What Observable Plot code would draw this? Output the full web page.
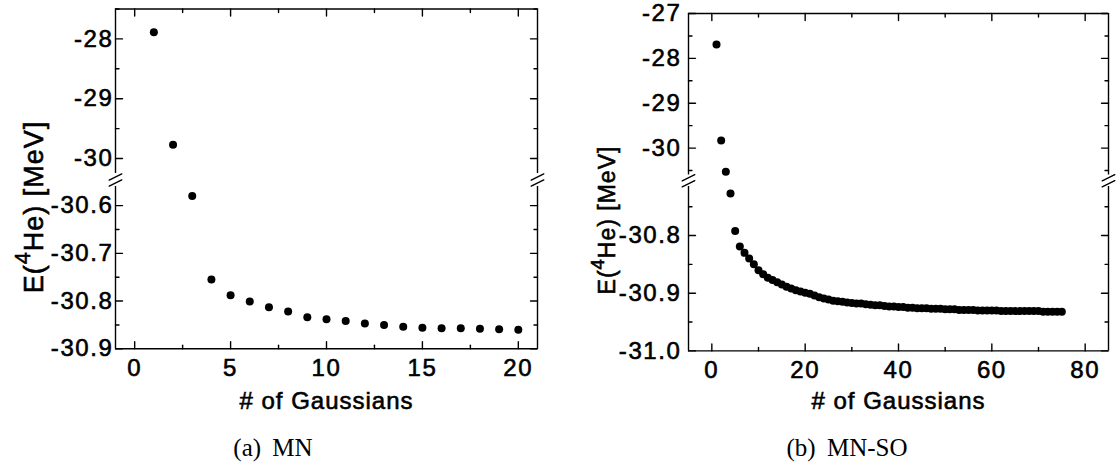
<!DOCTYPE html>
<html><head><meta charset="utf-8">
<script src="https://cdn.jsdelivr.net/npm/d3@7"></script>
<script src="https://cdn.jsdelivr.net/npm/@observablehq/plot@0.6"></script>
<style>
html,body{margin:0;padding:0;background:#fff;}
#wrap{position:relative;width:1120px;height:469px;overflow:hidden;background:#fff;}
.panel{position:absolute;top:0;}
.panel svg{overflow:visible;}
.panel svg text{font-family:"Liberation Sans",Arial,sans-serif;fill:#000;}
.panel svg g[aria-label$="tick label"] text{letter-spacing:1.6px;stroke:#000;stroke-width:0.6px;}
.panel svg .ylab,.panel svg g[aria-label="text"] text{letter-spacing:1px;stroke:#000;stroke-width:0.6px;}
.cap{position:absolute;font-family:"Liberation Serif","DejaVu Serif",serif;font-size:25px;transform:translateX(-50%);white-space:nowrap;color:#000;}
</style></head><body>
<div id="wrap"></div>
<script>
// ---------- data (a) MN ----------
const mnN = [1,2,3,4,5,6,7,8,9,10,11,12,13,14,15,16,17,18,19,20];
const mnE = [-27.89,-29.77,-30.58,-30.755,-30.788,-30.801,-30.813,-30.822,-30.834,-30.838,-30.842,-30.847,-30.850,-30.854,-30.856,-30.857,-30.857,-30.858,-30.859,-30.860];
const mnXMajor = [0,5,10,15,20];
const mnXMinor = [2.5,7.5,12.5,17.5];
const mnXLabels = ["0","5","10","15","20"];
const mnYMajor = [-28,-29,-30,-30.6,-30.7,-30.8,-30.9];
const mnYMinor = [-27.5,-28.5,-29.5,-30.65,-30.75,-30.85];
const mnYLabels = ["-28","-29","-30","-30.6","-30.7","-30.8","-30.9"];
const mnYLower = [-30.9,-30.56];
const mnYUpper = [-30.25,-27.5];
const mnXDomain = [-1,21];

// ---------- data (b) MN-SO ----------
const soN = Array.from({length:75},(_, i)=>i+1);
const soE = [-27.69,-29.83,-30.53,-30.727,-30.792,-30.819,-30.830,-30.840,-30.850,-30.860,
  -30.867,-30.873,-30.877,-30.881,-30.885,-30.889,-30.892,-30.895,-30.897,-30.899,
  -30.901,-30.904,-30.907,-30.909,-30.911,-30.913,-30.914,-30.915,-30.916,-30.917,
  -30.918,-30.918,-30.919,-30.920,-30.921,-30.921,-30.922,-30.923,-30.923,-30.924,
  -30.924,-30.925,-30.925,-30.926,-30.926,-30.926,-30.927,-30.927,-30.927,-30.928,
  -30.928,-30.928,-30.929,-30.929,-30.929,-30.929,-30.930,-30.930,-30.930,-30.930,
  -30.930,-30.931,-30.931,-30.931,-30.931,-30.931,-30.931,-30.931,-30.931,-30.931,
  -30.932,-30.932,-30.932,-30.932,-30.932];
const soXMajor = [0,20,40,60,80];
const soXMinor = [10,30,50,70];
const soXLabels = ["0","20","40","60","80"];
const soYMajor = [-27,-28,-29,-30,-30.8,-30.9,-31.0];
const soYMinor = [-27.5,-28.5,-29.5,-30.5,-30.75,-30.85,-30.95];
const soYLabels = ["-27","-28","-29","-30","-30.8","-30.9","-31.0"];
const soYLower = [-31.0,-30.715];
const soYUpper = [-30.6,-27];
const soXDomain = [-5,85];

const xTitle = "# of Gaussians";
const captions = ["(a)\u2009 MN", "(b)\u2009 MN-SO"];

// ---------- drawing ----------
const lineShape = {draw(ctx, l){ ctx.moveTo(0,0); ctx.lineTo(0,-l); }};

function panel(cfg){
  const ink = {stroke:"#000", strokeWidth:1.4};
  const yDomain = [...cfg.yLower, ...cfg.yUpper];
  // broken axis: piecewise map of values to vertical pixel positions
  const brk = d3.scaleLinear().domain(yDomain).range(cfg.yRange);
  const data = cfg.N.map((n,i)=>({n, e:cfg.E[i]}));
  const breakY = (cfg.yLower[1] + cfg.yUpper[0]) / 2;
  const [x0, x1] = cfg.xDomain;
  const vt = (vals, side, rot, len) => Plot.vector(vals, {
    [(side==="left"||side==="right") ? "y" : "x"]: d=>d,
    frameAnchor: side, rotate: rot, length: len, anchor: "start", shape: lineShape, ...ink
  });
  const yFmt = d => cfg.yLabels[cfg.yMajor.indexOf(d)];
  const xFmt = d => cfg.xLabels[cfg.xMajor.indexOf(d)];
  const m = cfg.margin;
  const slash = (side, dy) => Plot.vector([breakY], {y: d=>d, frameAnchor:side, rotate:64, length:14, anchor:"middle", shape:lineShape, dy, ...ink});
  const svg = Plot.plot({
    width: cfg.width, height: cfg.height,
    marginTop: m[0], marginRight: m[1], marginBottom: m[2], marginLeft: m[3],
    style: {background:"transparent", overflow:"visible"},
    x: {domain: cfg.xDomain, axis: null},
    y: {transform: v => brk(v), domain: [cfg.yRange[0], cfg.yRange[3]], range: [cfg.yRange[0], cfg.yRange[3]], axis: null},
    marks: [
      // frame
      Plot.ruleY([yDomain[0], yDomain[3]], ink),
      Plot.ruleX([x0, x1], {y1: cfg.yLower[0], y2: cfg.yLower[1], ...ink}),
      Plot.ruleX([x0, x1], {y1: cfg.yUpper[0], y2: cfg.yUpper[1], ...ink}),
      // break marks
      slash("left",-3), slash("left",3), slash("right",-3), slash("right",3),
      // inward ticks
      vt(cfg.yMajor, "left", 90, 7), vt(cfg.yMinor, "left", 90, 3.5),
      vt(cfg.yMajor, "right", 270, 7), vt(cfg.yMinor, "right", 270, 3.5),
      vt(cfg.xMajor, "bottom", 0, 7), vt(cfg.xMinor, "bottom", 0, 3.5),
      vt(cfg.xMajor, "top", 180, 7), vt(cfg.xMinor, "top", 180, 3.5),
      // tick labels
      Plot.axisY(cfg.yMajor, {anchor:"left", tickSize:0, tickPadding:cfg.yPad, tickFormat:yFmt, fontSize:24, label:null}),
      Plot.axisX(cfg.xMajor, {anchor:"bottom", tickSize:0, tickPadding:10, tickFormat:xFmt, fontSize:24, label:null}),
      // x title
      Plot.text([xTitle], {frameAnchor:"bottom", dy:cfg.titleDy, fontSize:24, text:d=>d}),
      // data
      Plot.dot(data, {x:"n", y:"e", r:cfg.r, fill:"#000", stroke:null})
    ]
  });
  // y axis label with superscript
  const s = d3.select(svg);
  const t = s.append("text").attr("class","ylab")
    .attr("transform", `translate(${cfg.ylab[0]},${cfg.ylab[1]}) rotate(-90)`)
    .attr("text-anchor","middle").style("font-size", cfg.ylab[2]+"px");
  t.append("tspan").text("E(");
  t.append("tspan").attr("dy", -cfg.ylab[2]*0.5).style("font-size","0.8em").text("4");
  t.append("tspan").attr("dy", cfg.ylab[2]*0.5).text("He) [MeV]");
  const div = document.createElement("div");
  div.className = "panel";
  div.style.left = cfg.left + "px";
  div.appendChild(svg);
  document.getElementById("wrap").appendChild(div);
  const cap = document.createElement("div");
  cap.className = "cap";
  cap.style.left = cfg.cap[0] + "px";
  cap.style.top = cfg.cap[1] + "px";
  cap.textContent = cfg.caption;
  document.getElementById("wrap").appendChild(cap);
}

panel({
  left:0, width:560, height:425, margin:[8.5,23,76.7,115],
  xDomain: mnXDomain, yLower: mnYLower, yUpper: mnYUpper, yRange:[348.3,186,173,8.5],
  N: mnN, E: mnE, r:4,
  xMajor: mnXMajor, xMinor: mnXMinor, xLabels: mnXLabels,
  yMajor: mnYMajor, yMinor: mnYMinor, yLabels: mnYLabels, yPad:2,
  titleDy: 60, ylab:[43,207,27], cap:[273,434], caption: captions[0]
});
panel({
  left:560, width:560, height:425, margin:[13,12,74.6,128],
  xDomain: soXDomain, yLower: soYLower, yUpper: soYUpper, yRange:[350.4,186,174.5,13],
  N: soN, E: soE, r:4,
  xMajor: soXMajor, xMinor: soXMinor, xLabels: soXLabels,
  yMajor: soYMajor, yMinor: soYMinor, yLabels: soYLabels, yPad:7,
  titleDy: 58, ylab:[55,220,23], cap:[847,434], caption: captions[1]
});
</script>
</body></html>
